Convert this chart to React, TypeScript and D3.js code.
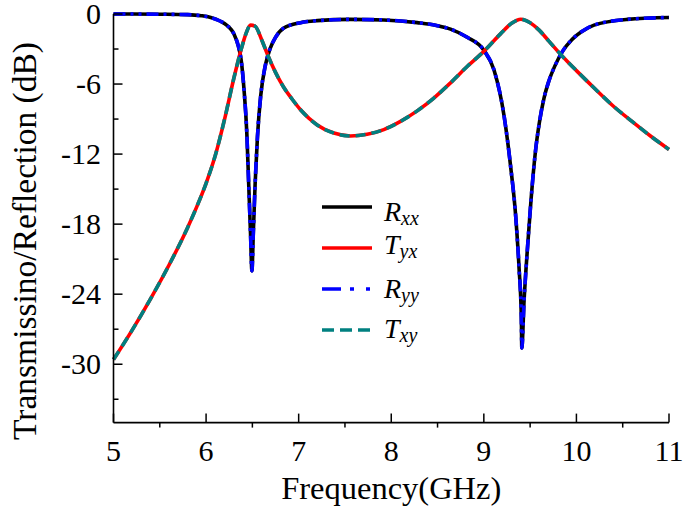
import React from "react";
import * as d3 from "d3";

const W = 685;
const H = 511;

// Frequencies (GHz) and values (dB)
const freqR = [5.0, 5.5, 5.8, 5.95, 6.05, 6.15, 6.23, 6.3, 6.35, 6.38, 6.41, 6.44, 6.46, 6.48, 6.495, 6.51, 6.53, 6.555, 6.59, 6.64, 6.69, 6.75, 6.84, 7.02, 7.2, 7.56, 7.92, 8.28, 8.5, 8.64, 8.82, 9.0, 9.11, 9.22, 9.29, 9.345, 9.38, 9.405, 9.41, 9.435, 9.47, 9.51, 9.56, 9.6, 9.65, 9.7, 9.77, 9.85, 9.95, 10.05, 10.19, 10.55, 11.0];
const rxxDb = [0, -0.02, -0.05, -0.15, -0.3, -0.6, -1.0, -1.7, -2.8, -4.0, -6.5, -10.2, -14.5, -18.8, -22.0, -18.8, -14.5, -10.5, -7.0, -4.4, -3.0, -2.0, -1.2, -0.74, -0.57, -0.46, -0.51, -0.74, -1.0, -1.3, -2.0, -3.1, -4.8, -8.8, -13.1, -17.4, -21.7, -26.0, -28.6, -24.5, -20.2, -15.9, -11.6, -9.3, -7.2, -5.8, -4.4, -3.2, -2.2, -1.55, -0.95, -0.46, -0.3];
const ryyDb = [0, -0.02, -0.05, -0.15, -0.3, -0.6, -1.0, -1.7, -2.8, -4.0, -6.5, -10.2, -14.5, -18.8, -22.0, -18.8, -14.5, -10.5, -7.0, -4.4, -3.0, -2.0, -1.2, -0.74, -0.57, -0.46, -0.51, -0.74, -1.0, -1.3, -2.0, -3.1, -4.8, -8.8, -13.1, -17.4, -21.7, -26.0, -28.6, -24.5, -20.2, -15.9, -11.6, -9.3, -7.2, -5.8, -4.4, -3.2, -2.2, -1.55, -0.95, -0.46, -0.3];

const freqT = [5.0, 5.2, 5.4, 5.6, 5.8, 5.9, 6.0, 6.1, 6.2, 6.3, 6.38, 6.43, 6.48, 6.53, 6.6, 6.67, 6.75, 6.84, 6.93, 7.02, 7.2, 7.38, 7.56, 7.74, 7.92, 8.1, 8.28, 8.46, 8.64, 8.82, 9.0, 9.18, 9.3, 9.4, 9.5, 9.6, 9.7, 9.8, 9.9, 10.0, 10.2, 10.4, 10.6, 10.8, 11.0];
const tyxDb = [-29.6, -27.1, -24.4, -21.5, -18.3, -16.5, -14.5, -12.1, -9.0, -5.5, -3.0, -1.7, -0.95, -1.05, -2.2, -3.6, -5.0, -6.3, -7.3, -8.2, -9.5, -10.2, -10.45, -10.3, -9.9, -9.2, -8.3, -7.2, -5.9, -4.5, -3.2, -1.7, -0.8, -0.45, -0.75, -1.4, -2.3, -3.2, -4.05, -4.85, -6.4, -7.9, -9.2, -10.45, -11.6];
const txyDb = [-29.6, -27.1, -24.4, -21.5, -18.3, -16.5, -14.5, -12.1, -9.0, -5.5, -3.0, -1.7, -0.95, -1.05, -2.2, -3.6, -5.0, -6.3, -7.3, -8.2, -9.5, -10.2, -10.45, -10.3, -9.9, -9.2, -8.3, -7.2, -5.9, -4.5, -3.2, -1.7, -0.8, -0.45, -0.75, -1.4, -2.3, -3.2, -4.05, -4.85, -6.4, -7.9, -9.2, -10.45, -11.6];

const xMajorTicks = [5, 6, 7, 8, 9, 10, 11];
const xMinorTicks = [5.5, 6.5, 7.5, 8.5, 9.5, 10.5];
const yMajorTicks = [0, -6, -12, -18, -24, -30];
const yMinorTicks = [-3, -9, -15, -21, -27, -33];

const legendMain = ["R", "T", "R", "T"];
const legendSub = ["xx", "yx", "yy", "xy"];

const serif = "'Liberation Serif', 'Times New Roman', Times, serif";

export default function App() {
  const x = d3.scaleLinear().domain([5, 11]).range([113.5, 669]);
  const y = d3.scaleLinear().domain([-35, 0]).range([422.6, 14]);

  const line = (fs: number[], vs: number[]) =>
    d3
      .line<number>()
      .x((_, i) => x(fs[i]))
      .y((v) => y(v))
      .curve(d3.curveMonotoneX)(vs) as string;

  const series = [
    { d: line(freqR, rxxDb), color: "#000000", dash: undefined as string | undefined },
    { d: line(freqT, tyxDb), color: "#ff0000", dash: undefined },
    { d: line(freqR, ryyDb), color: "#0000ff", dash: "12,5,3,5,3,5" },
    { d: line(freqT, txyDb), color: "#008080", dash: "10,6" },
  ];

  const legendLineY = [207, 248, 289, 330];
  const legendTextY = [221, 254, 298, 338];
  const x0 = x.range()[0];
  const yBottom = y.range()[0];
  const yTop = y.range()[1];

  return (
    <svg
      width={W}
      height={H}
      style={{ position: "absolute", left: 0, top: 0, background: "#fff" }}
      fontFamily={serif}
    >
      <rect width={W} height={H} fill="#fff" />
      {/* curves */}
      {series.map((s, i) => (
        <path
          key={i}
          d={s.d}
          fill="none"
          stroke={s.color}
          strokeWidth={3.6}
          strokeDasharray={s.dash}
          strokeLinejoin="round"
        />
      ))}

      {/* axes */}
      <line x1={x0} x2={x0} y1={yTop} y2={yBottom} stroke="#000" strokeWidth={1.6} />
      <line x1={x0} x2={x(11)} y1={yBottom} y2={yBottom} stroke="#000" strokeWidth={1.6} />

      {yMajorTicks.map((t) => (
        <g key={"ym" + t}>
          <line x1={x0} x2={x0 + 9} y1={y(t)} y2={y(t)} stroke="#000" strokeWidth={1.5} />
          <text
            x={101}
            y={y(t) + 10}
            textAnchor="end"
            fontSize={30}
            fill="#000"
          >
            {t}
          </text>
        </g>
      ))}
      {yMinorTicks.map((t) => (
        <line key={"yn" + t} x1={x0} x2={x0 + 5} y1={y(t)} y2={y(t)} stroke="#000" strokeWidth={1.5} />
      ))}

      {xMajorTicks.map((t) => (
        <g key={"xm" + t}>
          <line x1={x(t)} x2={x(t)} y1={yBottom} y2={yBottom - 9} stroke="#000" strokeWidth={1.5} />
          <text x={x(t)} y={461} textAnchor="middle" fontSize={30} fill="#000">
            {t}
          </text>
        </g>
      ))}
      {xMinorTicks.map((t) => (
        <line key={"xn" + t} x1={x(t)} x2={x(t)} y1={yBottom} y2={yBottom + 5} stroke="#000" strokeWidth={1.5} />
      ))}

      {/* axis titles */}
      <text x={(x0 + x(11)) / 2} y={499} textAnchor="middle" fontSize={32.5} fill="#000">
        Frequency(GHz)
      </text>
      <text
        transform={`translate(36, 241) rotate(-90)`}
        textAnchor="middle"
        fontSize={33.5}
        fill="#000"
      >
        Transmissino/Reflection (dB)
      </text>

      {/* legend */}
      {series.map((s, i) => (
        <g key={"lg" + i}>
          <line
            x1={322}
            x2={372}
            y1={legendLineY[i]}
            y2={legendLineY[i]}
            stroke={s.color}
            strokeWidth={3.6}
            strokeDasharray={s.dash ? (i === 2 ? "19,9,4,12,4,12" : "12,6") : undefined}
          />
          <text x={384} y={legendTextY[i]} fontSize={28} fontStyle="italic" fill="#000">
            {legendMain[i]}
            <tspan fontSize={20} dy={4}>
              {legendSub[i]}
            </tspan>
          </text>
        </g>
      ))}
    </svg>
  );
}
